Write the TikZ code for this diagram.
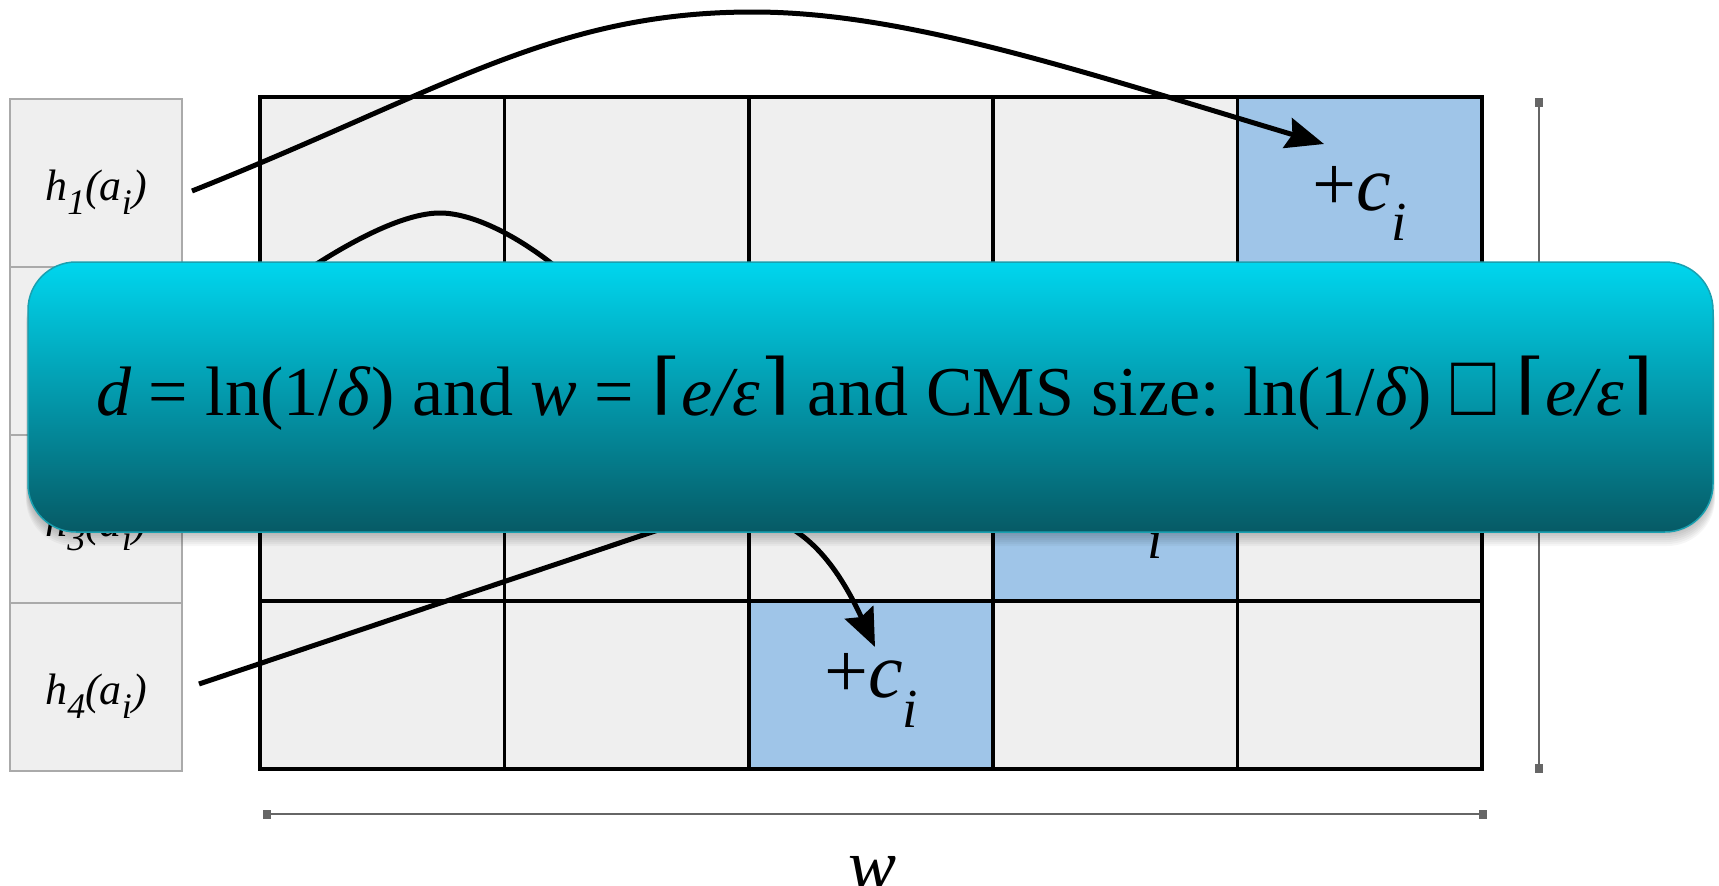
\documentclass[tikz,border=0pt]{standalone}
\usepackage{fontspec}
\usepackage{graphicx}
\setmainfont{Liberation Serif}[ItalicFont={Liberation Serif Italic},BoldFont={Liberation Serif Bold}]
\newfontfamily\djserif{DejaVu Serif}
\usetikzlibrary{arrows.meta,calc}
\definecolor{cellgray}{HTML}{EFEFEF}
\definecolor{boxedge}{HTML}{AAAAAA}
\definecolor{cellblue}{HTML}{9FC5E8}
\definecolor{dimgray}{HTML}{666666}
\definecolor{bantop}{HTML}{00D6EE}
\definecolor{banmid}{HTML}{0398AB}
\definecolor{banbot}{HTML}{065A65}
\definecolor{banedge}{HTML}{1AA0B0}
\newcommand\hlab[1]{\textit{h}\raisebox{-14pt}{\fontsize{36}{36}\selectfont\textit{#1}}\textit{(a}\raisebox{-14pt}{\fontsize{36}{36}\selectfont\textit{i}}\textit{)}}
\newcommand\cilab{+\textit{c}\raisebox{-30pt}{\fontsize{55}{55}\selectfont\textit{i}}}
\newcommand\lceilch{\raisebox{0.117em}{\scalebox{1.1}[0.95]{\djserif ⌈}}}
\newcommand\rceilch{\raisebox{0.117em}{\scalebox{1.1}[0.95]{\djserif ⌉}}}
\begin{document}
\begin{tikzpicture}[x=1pt,y=-1pt,
 hbox/.style={draw=boxedge, line width=1.8pt, fill=cellgray, minimum width=172pt, minimum height=168pt, inner sep=0pt, outer sep=0pt},
 hlabel/.style={font=\fontsize{44}{44}\selectfont, inner sep=0pt, anchor=base},
 cell/.style={draw=black, line width=3.6pt, fill=cellgray, minimum width=244.4pt, minimum height=168pt, inner sep=0pt, outer sep=0pt},
 hit/.style={cell, fill=cellblue},
 cilabel/.style={font=\fontsize{78}{78}\selectfont, inner sep=0pt, anchor=base},
 conn/.style={line width=5pt, -{Stealth[length=38pt,width=31pt,inset=5pt]}},
 dimline/.style={draw=dimgray, line width=2.4pt},
 dimcap/.style={fill=dimgray, minimum width=8pt, minimum height=9pt, inner sep=0pt},
 banner/.style={draw=banedge, line width=1.5pt, rounded corners=48pt, minimum width=1685pt, minimum height=270pt, top color=bantop, bottom color=banbot, middle color=banmid, inner sep=0pt},
 bantext/.style={font=\fontsize{70}{70}\selectfont, inner sep=0pt, anchor=base}
]
\useasboundingbox (0,0) rectangle (1719,886);
\fill[white] (0,0) rectangle (1719,886);

% hash-function boxes
\node[hbox] (H1) at (96,183) {};
\node[hbox] (H2) at (96,351) {};
\node[hbox] (H3) at (96,519) {};
\node[hbox] (H4) at (96,687) {};
\node[hlabel] (t1) at (96,200) {\hlab{1}};
\node[hlabel] (t3) at (96,536) {\hlab{3}};
\node[hlabel] (t4) at (96,704) {\hlab{4}};

% counter grid
\node[cell] (c11) at (382.2,181) {};
\node[cell] (c12) at (626.6,181) {};
\node[cell] (c13) at (871.0,181) {};
\node[cell] (c14) at (1115.4,181) {};
\node[hit]  (c15) at (1359.8,181) {};
\node[cell] (c21) at (382.2,349) {};
\node[cell] (c22) at (626.6,349) {};
\node[cell] (c23) at (871.0,349) {};
\node[cell] (c24) at (1115.4,349) {};
\node[cell] (c25) at (1359.8,349) {};
\node[cell] (c31) at (382.2,517) {};
\node[cell] (c32) at (626.6,517) {};
\node[cell] (c33) at (871.0,517) {};
\node[hit]  (c34) at (1115.4,517) {};
\node[cell] (c35) at (1359.8,517) {};
\node[cell] (c41) at (382.2,685) {};
\node[cell] (c42) at (626.6,685) {};
\node[hit]  (c43) at (871.0,685) {};
\node[cell] (c44) at (1115.4,685) {};
\node[cell] (c45) at (1359.8,685) {};
\draw[line width=4.6pt] (c11.north west) rectangle (c45.south east);

\node[cilabel] (l15) at ($(c15.center)+(0,29)$) {\cilab};
\node[cilabel] (l34) at ($(c34.center)+(0,11)$) {\cilab};
\node[cilabel] (l43) at ($(c43.center)+(0,12)$) {\cilab};

% connectors
\coordinate (p1) at (753,12);
\coordinate (e1) at (1324,144);
\coordinate (p2) at (440,213);
\coordinate (e2) at (640,380);
\coordinate (q4) at (670,526);
\coordinate (e4) at (875,647);
\draw[conn] ($(H1.east)+(10,8)$) .. controls (443,91) and (553,12) .. (p1) .. controls (903,12) and (1074,69) .. (e1);
\draw[conn] ($(H2.east)+(10,8)$) .. controls (270,290) and (380,213) .. (p2) .. controls (500,213) and (600,290) .. (e2);
\draw[conn] ($(H4.east)+(17,-3)$) -- (q4) .. controls (750,499) and (812,510) .. (e4);

% dimension lines
\node[dimcap] (vt) at (1539,102) {};
\node[dimcap] (vb) at (1539,768) {};
\draw[dimline] (vt.center) -- (vb.center);
\node[dimcap] (hl) at (267,814) {};
\node[dimcap] (hr) at (1483,814) {};
\draw[dimline] (hl.center) -- (hr.center);
\node[anchor=base, font=\fontsize{72}{72}\selectfont\itshape, inner sep=0pt] (W) at (873,889) {w};

% banner shadow
\foreach \k in {1,...,7}
  \fill[black, opacity=0.035, rounded corners=48pt] (28-0.3*\k,275) rectangle (1713+0.3*\k,532+2*\k);
% banner
\node[banner] (B) at (870.5,397) {};
\node[bantext] (T) at (875,415) {\textit{d} = ln(1/\textit{δ}) and \textit{w} = \lceilch\textit{e/ε}\rceilch{} and CMS size: ln(1/\textit{δ})\hspace{0.28em}\scalebox{1.05}[1.25]{□}\hspace{0.28em}\lceilch\textit{e/ε}\rceilch};
\end{tikzpicture}
\end{document}
